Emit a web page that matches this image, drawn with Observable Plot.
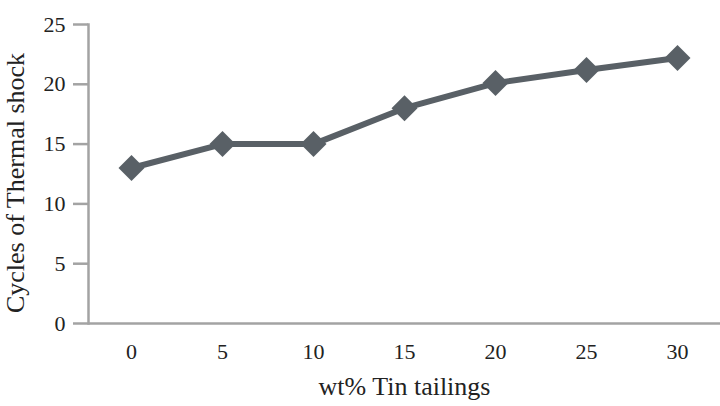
<!DOCTYPE html>
<html><head><meta charset="utf-8">
<script src="https://cdn.jsdelivr.net/npm/d3@7"></script>
<script src="https://cdn.jsdelivr.net/npm/@observablehq/plot@0.6"></script>
<style>
body{margin:0;background:#fff;} svg{display:block;}
#chart svg [aria-label$="tick label"] text { font-size: 22px; }
</style>
</head><body><div id="chart"></div>
<script>
const categories = ["0","5","10","15","20","25","30"];
const cycles = [13, 15, 15, 18, 20.1, 21.2, 22.2];
const yTicks = [0, 5, 10, 15, 20, 25];
const data = categories.map((c, i) => ({x: c, y: cycles[i]}));
const lineColor = "#596066";
const axisColor = "#a3a3a3";
const textColor = "#222";
const chart = Plot.plot({
  width: 720, height: 406,
  marginLeft: 88, marginRight: 0, marginTop: 24, marginBottom: 83,
  style: {fontFamily: "'Liberation Serif', 'Times New Roman', serif", fontSize: "22px", color: textColor, background: "#fff"},
  x: {type: "point", domain: categories, padding: 0.47, label: null},
  y: {domain: [0, 25], label: null},
  marks: [
    Plot.frame({anchor: "left", stroke: axisColor, strokeWidth: 2.5}),
    Plot.ruleY([0], {stroke: axisColor, strokeWidth: 2.5}),
    Plot.axisY(yTicks, {tickSize: 15, tickPadding: 8, stroke: axisColor, strokeWidth: 2.5, fontSize: 22, fill: textColor, label: null}),
    Plot.axisX({tickSize: 0, tickPadding: 20, fontSize: 22, fill: textColor, label: null}),
    Plot.text(["wt% Tin tailings"], {frameAnchor: "bottom", dy: 71, fontSize: 26, fill: textColor}),
    Plot.text(["Cycles of Thermal shock"], {frameAnchor: "left", textAnchor: "middle", dx: -73, dy: 9, rotate: -90, fontSize: 26, fill: textColor}),
    Plot.line(data, {x: "x", y: "y", stroke: lineColor, strokeWidth: 6}),
    Plot.dot(data, {x: "x", y: "y", symbol: "diamond2", r: 11.7, fill: lineColor, stroke: "none"})
  ]
});
document.getElementById("chart").append(chart);
</script></body></html>
